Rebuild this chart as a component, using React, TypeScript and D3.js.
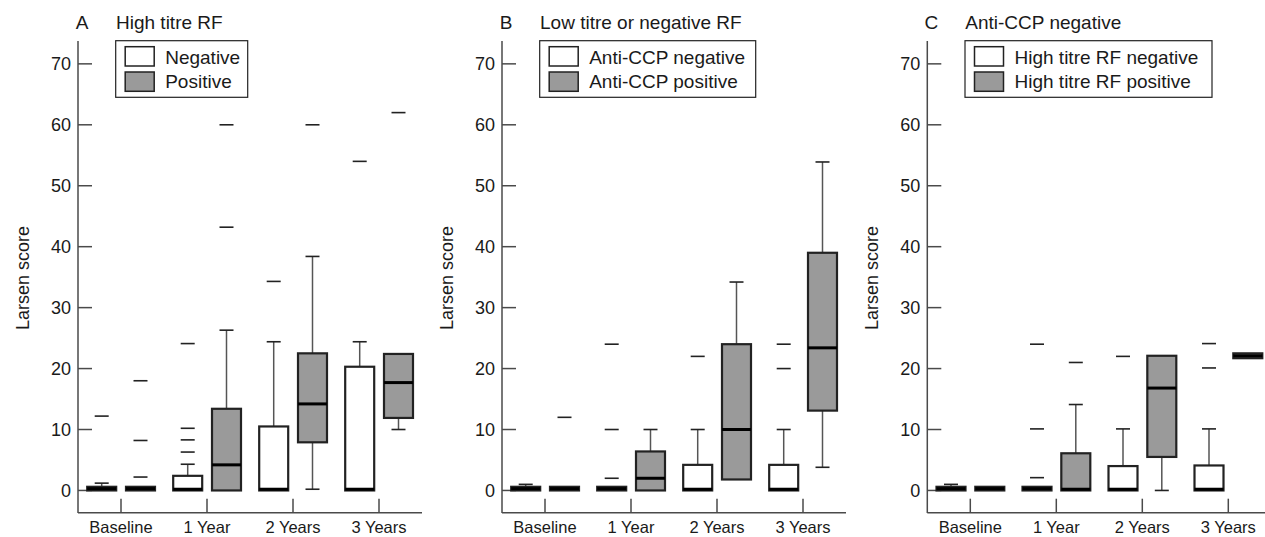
import React from "react";
import * as d3 from "d3";

type Box = { q1: number; med: number; q3: number; lo: number; hi: number; out: number[] };

const categories = ["Baseline", "1 Year", "2 Years", "3 Years"];
const yTicks = [0, 10, 20, 30, 40, 50, 60, 70];

// Panel A: High titre RF
const aNegative: Box[] = [
  { q1: 0, med: 0.3, q3: 0.6, lo: 0, hi: 1.2, out: [12.2] },
  { q1: 0, med: 0.2, q3: 2.4, lo: 0, hi: 4.3, out: [6.3, 8.3, 10.2, 24.1] },
  { q1: 0, med: 0.2, q3: 10.5, lo: 0, hi: 24.4, out: [34.3] },
  { q1: 0, med: 0.2, q3: 20.3, lo: 0, hi: 24.4, out: [54] },
];
const aPositive: Box[] = [
  { q1: 0, med: 0.3, q3: 0.6, lo: 0, hi: 0.6, out: [2.2, 8.2, 18] },
  { q1: 0, med: 4.2, q3: 13.4, lo: 0, hi: 26.3, out: [43.2, 60] },
  { q1: 7.9, med: 14.2, q3: 22.5, lo: 0.2, hi: 38.4, out: [60] },
  { q1: 11.9, med: 17.7, q3: 22.4, lo: 10, hi: 22.4, out: [62] },
];

// Panel B: Low titre or negative RF
const bNegative: Box[] = [
  { q1: 0, med: 0.3, q3: 0.6, lo: 0, hi: 1.0, out: [] },
  { q1: 0, med: 0.3, q3: 0.6, lo: 0, hi: 0.6, out: [2, 10, 24] },
  { q1: 0, med: 0.2, q3: 4.2, lo: 0, hi: 10, out: [22] },
  { q1: 0, med: 0.2, q3: 4.2, lo: 0, hi: 10, out: [20, 24] },
];
const bPositive: Box[] = [
  { q1: 0, med: 0.3, q3: 0.6, lo: 0, hi: 0.6, out: [12] },
  { q1: 0, med: 2, q3: 6.4, lo: 0, hi: 10, out: [] },
  { q1: 1.8, med: 10, q3: 24, lo: 1.8, hi: 34.2, out: [] },
  { q1: 13.1, med: 23.4, q3: 39, lo: 3.8, hi: 53.9, out: [] },
];

// Panel C: Anti-CCP negative
const cNegative: Box[] = [
  { q1: 0, med: 0.3, q3: 0.6, lo: 0, hi: 1.0, out: [] },
  { q1: 0, med: 0.3, q3: 0.6, lo: 0, hi: 0.6, out: [2.1, 10.1, 24] },
  { q1: 0, med: 0.2, q3: 4.0, lo: 0, hi: 10.1, out: [22] },
  { q1: 0, med: 0.2, q3: 4.1, lo: 0, hi: 10.1, out: [20.1, 24.1] },
];
const cPositive: Box[] = [
  { q1: 0, med: 0.3, q3: 0.6, lo: 0, hi: 0.6, out: [] },
  { q1: 0, med: 0.2, q3: 6.1, lo: 0, hi: 14.1, out: [21] },
  { q1: 5.5, med: 16.8, q3: 22.1, lo: 0, hi: 22.1, out: [] },
  { q1: 21.7, med: 22.1, q3: 22.5, lo: 21.7, hi: 22.5, out: [] },
];

const panelLetters = ["A", "B", "C"];
const panelTitles = ["High titre RF", "Low titre or negative RF", "Anti-CCP negative"];
const legendNegative = ["Negative", "Anti-CCP negative", "High titre RF negative"];
const legendPositive = ["Positive", "Anti-CCP positive", "High titre RF positive"];
const panelNegData = [aNegative, bNegative, cNegative];
const panelPosData = [aPositive, bPositive, cPositive];

// layout
const axisXs = [78, 502, 927.3];
const legendWidths = [132, 216, 247];
const FONT = "'Liberation Sans', Arial, sans-serif";
const TEXT = "#1a1a1a";
const AXIS = "#4a4a4a";
const GREY = "#9a9a9a";

function BoxMark({ b, cx, y, fill }: { b: Box; cx: number; y: d3.ScaleLinear<number, number>; fill: string }) {
  const w = 29;
  const cap = 14;
  return (
    <g>
      {b.hi > b.q3 && (
        <g>
          <line x1={cx} x2={cx} y1={y(b.q3)} y2={y(b.hi)} stroke="#555" strokeWidth={1.5} />
          <line x1={cx - cap / 2} x2={cx + cap / 2} y1={y(b.hi)} y2={y(b.hi)} stroke="#222" strokeWidth={1.6} />
        </g>
      )}
      {b.lo < b.q1 && (
        <g>
          <line x1={cx} x2={cx} y1={y(b.q1)} y2={y(b.lo)} stroke="#555" strokeWidth={1.5} />
          <line x1={cx - cap / 2} x2={cx + cap / 2} y1={y(b.lo)} y2={y(b.lo)} stroke="#222" strokeWidth={1.6} />
        </g>
      )}
      <rect
        x={cx - w / 2}
        y={y(b.q3)}
        width={w}
        height={Math.max(0, y(b.q1) - y(b.q3))}
        fill={fill}
        stroke="#222"
        strokeWidth={2.2}
      />
      <line x1={cx - w / 2} x2={cx + w / 2} y1={y(b.med)} y2={y(b.med)} stroke="#000" strokeWidth={3} />
      {b.out.map((o, i) => (
        <line key={i} x1={cx - 7} x2={cx + 7} y1={y(o)} y2={y(o)} stroke="#222" strokeWidth={1.6} />
      ))}
    </g>
  );
}

function Panel({ idx }: { idx: number }) {
  const ax = axisXs[idx];
  const y = d3.scaleLinear().domain([-3.7, 73.75]).range([513, 41]);
  const x = d3.scaleBand<string>().domain(categories).range([ax, ax + 344]);
  const half = x.bandwidth() / 2;
  const negData = panelNegData[idx];
  const posData = panelPosData[idx];
  const lx = ax + 37.7;
  const ly = 40.7;
  const lw = legendWidths[idx];
  return (
    <g>
      <text x={ax + 4} y={29} textAnchor="middle" fontFamily={FONT} fontSize={19} fill={TEXT}>
        {panelLetters[idx]}
      </text>
      <text x={ax + 38} y={29} fontFamily={FONT} fontSize={19} fill={TEXT}>
        {panelTitles[idx]}
      </text>
      <text
        transform={`translate(${ax - 49},278) rotate(-90)`}
        textAnchor="middle"
        fontFamily={FONT}
        fontSize={18}
        fill={TEXT}
      >
        Larsen score
      </text>
      <line x1={ax} x2={ax} y1={y.range()[1]} y2={y.range()[0]} stroke={AXIS} strokeWidth={1.5} />
      <line x1={ax} x2={ax + 344} y1={512.7} y2={512.7} stroke={AXIS} strokeWidth={1.5} />
      {yTicks.map((t) => (
        <g key={t}>
          <line x1={ax} x2={ax + 14} y1={y(t)} y2={y(t)} stroke={AXIS} strokeWidth={1.5} />
          <text
            x={ax - 7}
            y={y(t)}
            dy="0.36em"
            textAnchor="end"
            fontFamily={FONT}
            fontSize={18}
            fill={TEXT}
          >
            {t}
          </text>
        </g>
      ))}
      {categories.map((c) => {
        const cx = (x(c) as number) + half;
        return (
          <g key={c}>
            <line x1={cx} x2={cx} y1={512.7} y2={498.7} stroke={AXIS} strokeWidth={1.5} />
            <text x={cx} y={533} textAnchor="middle" fontFamily={FONT} fontSize={16.5} fill={TEXT}>
              {c}
            </text>
          </g>
        );
      })}
      {categories.map((c, i) => {
        const cx = (x(c) as number) + half;
        return (
          <g key={c}>
            <BoxMark b={negData[i]} cx={cx - 19.3} y={y} fill="#fff" />
            <BoxMark b={posData[i]} cx={cx + 19.5} y={y} fill={GREY} />
          </g>
        );
      })}
      <rect x={lx} y={ly} width={lw} height={56.6} fill="#fff" stroke="#222" strokeWidth={1.2} />
      <rect x={lx + 9.5} y={ly + 6} width={29} height={19.3} fill="#fff" stroke="#222" strokeWidth={1.5} />
      <rect x={lx + 9.5} y={ly + 31.3} width={29} height={19.3} fill={GREY} stroke="#222" strokeWidth={1.5} />
      <text x={lx + 49.5} y={ly + 23} fontFamily={FONT} fontSize={19} fill={TEXT}>
        {legendNegative[idx]}
      </text>
      <text x={lx + 49.5} y={ly + 47.5} fontFamily={FONT} fontSize={19} fill={TEXT}>
        {legendPositive[idx]}
      </text>
    </g>
  );
}

export default function App() {
  return (
    <svg
      width={1265}
      height={537}
      style={{ position: "absolute", left: 0, top: 0, background: "#fff" }}
    >
      <rect width={1265} height={537} fill="#fff" />
      {[0, 1, 2].map((i) => (
        <Panel key={i} idx={i} />
      ))}
    </svg>
  );
}
